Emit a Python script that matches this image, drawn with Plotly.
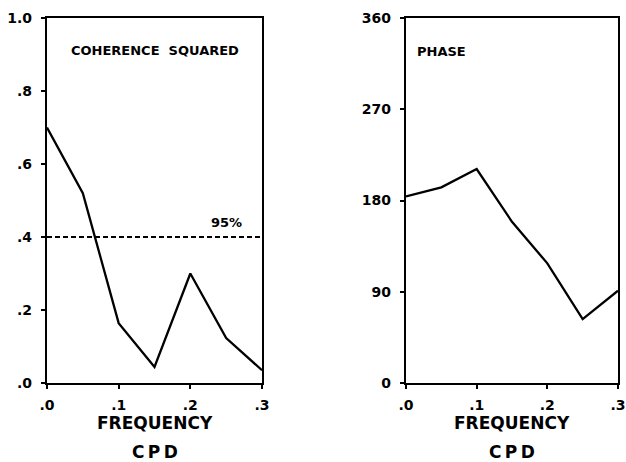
import plotly.graph_objects as go

# Data
freq = [0.0, 0.05, 0.10, 0.15, 0.20, 0.25, 0.30]
coherence_sq = [0.70, 0.52, 0.164, 0.044, 0.30, 0.123, 0.035]
phase = [184, 193, 211, 159, 118, 63, 91]
conf95 = 0.40

x_ticks = [0.0, 0.1, 0.2, 0.3]
x_ticktext = [".0", ".1", ".2", ".3"]
coh_ticks = [0.0, 0.2, 0.4, 0.6, 0.8, 1.0]
coh_ticktext = [".0", ".2", ".4", ".6", ".8", "1.0"]
phase_ticks = [0, 90, 180, 270, 360]
phase_ticktext = ["0", "90", "180", "270", "360"]

FONT = "DejaVu Sans"
W, H = 626, 462

fig = go.Figure()

fig.add_trace(go.Scatter(x=freq, y=coherence_sq, mode="lines",
                         line=dict(color="black", width=2.3),
                         xaxis="x", yaxis="y", showlegend=False))
fig.add_trace(go.Scatter(x=[freq[0], freq[-1]], y=[conf95, conf95], mode="lines",
                         line=dict(color="black", width=1.8, dash="5px,3px"),
                         xaxis="x", yaxis="y", showlegend=False))
fig.add_trace(go.Scatter(x=freq, y=phase, mode="lines",
                         line=dict(color="black", width=2.3),
                         xaxis="x2", yaxis="y2", showlegend=False))

axis_common = dict(showline=True, linecolor="black", linewidth=2.4, mirror=True,
                   showgrid=False, zeroline=False, ticks="outside", ticklen=4,
                   tickwidth=1.5, tickcolor="black", automargin=False,
                   tickfont=dict(family=FONT, size=14, color="black", weight="bold"))

L_dom = [47 / W, 262 / W]
R_dom = [406 / W, 618 / W]
Y_dom = [1 - 383 / H, 1 - 18 / H]

fig.update_layout(
    width=W, height=H,
    margin=dict(l=0, r=0, t=0, b=0, autoexpand=False),
    paper_bgcolor="white", plot_bgcolor="white",
    xaxis=dict(domain=L_dom, range=[0, 0.3], tickvals=x_ticks, ticktext=x_ticktext,
               anchor="y", ticklabelstandoff=4, **axis_common),
    yaxis=dict(domain=Y_dom, range=[0, 1.0], tickvals=coh_ticks, ticktext=coh_ticktext,
               anchor="x", ticklabelstandoff=6, **axis_common),
    xaxis2=dict(domain=R_dom, range=[0, 0.3], tickvals=x_ticks, ticktext=x_ticktext,
                anchor="y2", ticklabelstandoff=4, **axis_common),
    yaxis2=dict(domain=Y_dom, range=[0, 360], tickvals=phase_ticks, ticktext=phase_ticktext,
                anchor="x2", ticklabelstandoff=6, **axis_common),
)

lab_font = dict(family=FONT, size=17, color="black", weight="bold")
small_font = dict(family=FONT, size=13, color="black", weight="bold")
annos = [
    dict(text="COHERENCE  SQUARED", xref="x", yref="y", x=0.15, y=0.91,
         xanchor="center", yanchor="middle", showarrow=False, font=small_font),
    dict(text="PHASE", xref="x2", yref="y2", x=0.013, y=327, xanchor="left",
         yanchor="middle", showarrow=False, font=small_font),
    dict(text="95%", xref="x", yref="y", x=0.25, y=0.44, xanchor="center",
         yanchor="middle", showarrow=False,
         font=dict(family=FONT, size=13, color="black", weight="bold")),
]
for cx in [(47 + 262) / 2, (406 + 618) / 2]:
    annos.append(dict(text="FREQUENCY", xref="paper", yref="paper", x=cx / W, y=1 - 423 / H,
                      xanchor="center", yanchor="middle", showarrow=False, font=lab_font))
    annos.append(dict(text="C\u2009P\u2009D", xref="paper", yref="paper", x=cx / W,
                      y=1 - 452 / H, xanchor="center", yanchor="middle",
                      showarrow=False, font=lab_font))
fig.update_layout(annotations=annos)

fig.write_html("out.html", config={"displayModeBar": False},
               post_script="document.body.style.margin='0';document.body.style.padding='0';")
